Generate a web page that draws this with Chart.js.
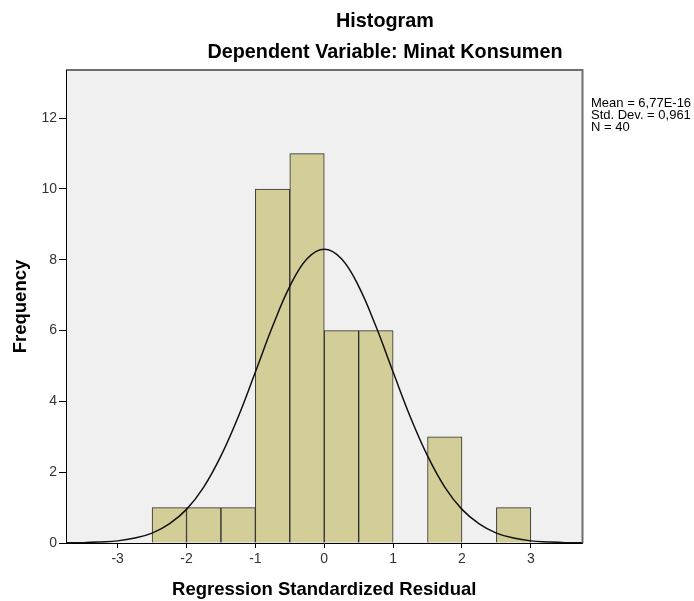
<!DOCTYPE html>
<html>
<head>
<meta charset="utf-8">
<script src="https://cdn.jsdelivr.net/npm/chart.js@4.4.1/dist/chart.umd.min.js"></script>
<style>
  html, body { margin:0; padding:0; background:#fff; }
  canvas { display:block; }
</style>
</head>
<body>
<canvas id="chart" width="694" height="601"></canvas>
<script>
// histogram bins (centers, width 0.5) and counts
const binCenters = [-2.25,-1.75,-1.25,-0.75,-0.25,0.25,0.75,1.25,1.75,2.25,2.75];
const binCounts  = [1,1,1,10,11,6,6,0,3,0,1];

// normal curve
const curveX = [-3.75,-3.5,-3.25,-3,-2.75,-2.5,-2.25,-2,-1.75,-1.5,-1.25,-1,-0.75,-0.5,-0.25,0,
                0.25,0.5,0.75,1,1.25,1.5,1.75,2,2.25,2.5,2.75,3,3.25,3.5,3.75];
const curveY = [0.01,0.01,0.03,0.06,0.14,0.28,0.54,0.95,1.58,2.46,3.56,4.83,6.12,7.25,8.03,8.3,
                8.03,7.25,6.12,4.83,3.56,2.46,1.58,0.95,0.54,0.28,0.14,0.06,0.03,0.01,0.01];

const xTicks = [-3,-2,-1,0,1,2,3];
const yTicks = [0,2,4,6,8,10,12];

const statLines = ["Mean = 6,77E-16","Std. Dev. = 0,961","N = 40"];

const font = "'Liberation Sans', Arial, sans-serif";

const frame = {
    id:"frame",
    beforeDraw(chart){
        const {ctx, chartArea:a} = chart;
        ctx.save();
        ctx.fillStyle = "#fff";
        ctx.fillRect(0,0,chart.width,chart.height);
        ctx.fillStyle = "#f0f0f0";
        ctx.fillRect(a.left,a.top,a.right-a.left,a.bottom-a.top);
        ctx.strokeStyle = "#6e6e6e";
        ctx.lineWidth = 2;
        ctx.beginPath();
        ctx.moveTo(a.left,a.top);
        ctx.lineTo(a.right,a.top);
        ctx.lineTo(a.right,a.bottom);
        ctx.stroke();
        ctx.restore();
    },
    afterDraw(chart){
        const ctx = chart.ctx;
        ctx.save();
        ctx.fillStyle = "#000";
        ctx.textAlign = "center";
        ctx.textBaseline = "alphabetic";
        ctx.font = "bold 19.8px " + font;
        ctx.fillText("Histogram",385,27);
        ctx.fillText("Dependent Variable: Minat Konsumen",385,58);
        ctx.textAlign = "left";
        ctx.font = "13px " + font;
        statLines.forEach((t,i)=>{
            ctx.fillText(t,591,107 + i*12);
        });
        ctx.restore();
    }
};

const chart = new Chart(
    document.getElementById("chart"),
    {
        type:"bar",
        data:{
            datasets:[
                {
                    type:"line",
                    data:curveX.map((x,i)=>({x:x,y:curveY[i]})),
                    borderColor:"#111",
                    borderWidth:1.5,
                    pointRadius:0,
                    tension:0.4,
                    fill:false,
                    order:0
                },
                {
                    data:binCenters.map((x,i)=>({x:x,y:binCounts[i]})),
                    backgroundColor:"#d3ce97",
                    borderColor:"#2e2e2e",
                    borderWidth:1,
                    barPercentage:1,
                    categoryPercentage:1,
                    order:1
                }
            ]
        },
        options:{
            responsive:false,
            animation:false,
            devicePixelRatio:1,
            layout:{ padding:{ top:70, right:111.5, left:0, bottom:0 } },
            plugins:{ legend:{display:false}, tooltip:{enabled:false} },
            scales:{
                x:{
                    type:"linear",
                    offset:false,
                    min:-3.75,
                    max:3.75,
                    afterBuildTicks:s=>{ s.ticks = xTicks.map(v=>({value:v})); },
                    afterFit:s=>{ s.height = 58; },
                    grid:{ offset:false, drawOnChartArea:false, color:"#000", tickLength:5 },
                    border:{ color:"#000", width:1 },
                    ticks:{ color:"#333", font:{family:font,size:14}, padding:3, maxRotation:0 },
                    title:{ display:true, text:"Regression Standardized Residual", color:"#000",
                            font:{family:font,size:18.5,weight:"bold"}, padding:{top:0,bottom:0} }
                },
                y:{
                    min:0,
                    max:13.36,
                    afterBuildTicks:s=>{ s.ticks = yTicks.map(v=>({value:v})); },
                    afterFit:s=>{ s.width = 66; },
                    grid:{ drawOnChartArea:false, color:"#000", tickLength:7 },
                    border:{ color:"#000", width:1 },
                    ticks:{ color:"#333", font:{family:font,size:14}, padding:2 },
                    title:{ display:true, text:"Frequency", color:"#000",
                            font:{family:font,size:18.5,weight:"bold"}, padding:{top:10,bottom:0} }
                }
            }
        },
        plugins:[frame]
    }
);
</script>
</body>
</html>
